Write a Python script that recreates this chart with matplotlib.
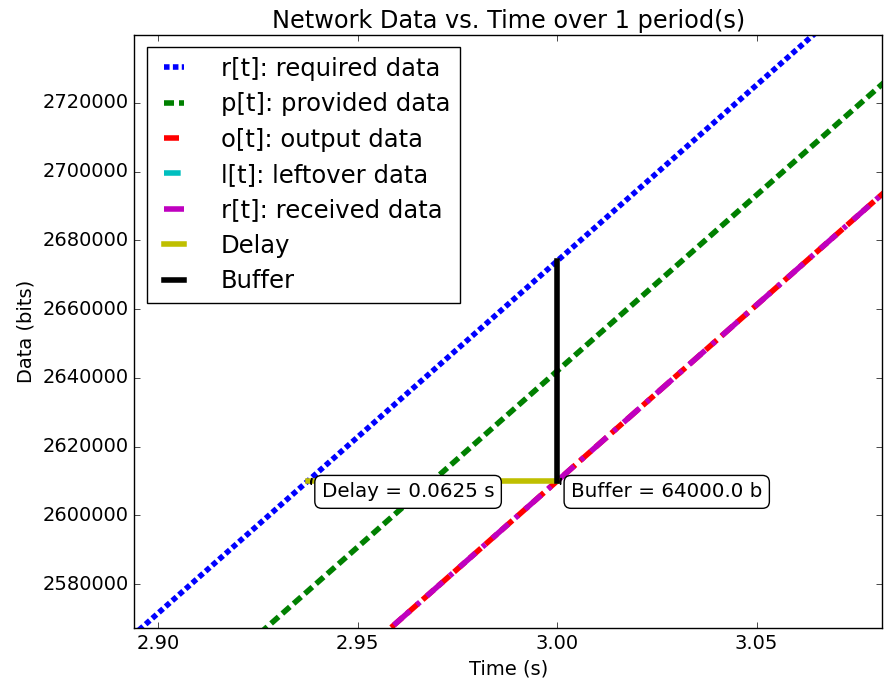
import numpy as np
import matplotlib
matplotlib.use('Agg')
import matplotlib.pyplot as plt

plt.style.use('classic')

# end points of each straight series (time in s, data in bits)
time_pts = [2.85, 3.10]
required = [2520400, 2776400]
provided = [2488400, 2744400]
output = [2456400, 2712400]
leftover = [0, 0]
received = [2456400, 2712400]

delay_t = [2.9375, 3.0]
delay_d = [2610000, 2610000]
buffer_t = [3.0, 3.0]
buffer_d = [2610000, 2674000]

delay_val = 0.0625
buffer_val = 64000.0

fig = plt.figure(figsize=(8.84, 6.82), dpi=100)
ax = fig.add_axes([0.152, 0.079, 0.846, 0.870])

ax.plot(time_pts, required, 'b', lw=4, dashes=(4, 2.4), label='r[t]: required data')
ax.plot(time_pts, provided, 'g', lw=4, dashes=(7.2, 3.6), label='p[t]: provided data')
ax.plot(time_pts, output, 'r', lw=4, dashes=(10.8, 4.3), label='o[t]: output data')
ax.plot(time_pts, leftover, 'c', lw=4, dashes=(12, 7), label='l[t]: leftover data')
ax.plot(time_pts, received, 'm', lw=4, dashes=(15.5, 6.5, 3, 6.5), label='r[t]: received data')
ax.plot(delay_t, delay_d, 'y-', lw=4, label='Delay')
ax.plot(buffer_t, buffer_d, 'k-', lw=4, label='Buffer')

box = dict(boxstyle='round,pad=0.35', fc='white', ec='black')
arrow = dict(arrowstyle='wedge,tail_width=0.3', fc='white', ec='black')
ax.annotate('Delay = {} s'.format(delay_val), xy=(delay_t[0], delay_d[0]),
            xytext=(10, -1), textcoords='offset points', ha='left', va='top',
            fontsize=14.3, bbox=box, arrowprops=arrow)
ax.annotate('Buffer = {} b'.format(buffer_val), xy=(buffer_t[0], buffer_d[0]),
            xytext=(10, -1), textcoords='offset points', ha='left', va='top',
            fontsize=14.3, bbox=box, arrowprops=arrow)

ax.set_xlim(2.894, 3.0815)
ax.set_ylim(2567200, 2739800)
ax.set_xticks([2.90, 2.95, 3.00, 3.05])
ax.set_yticks(np.arange(2580000, 2730000, 20000))
ax.ticklabel_format(useOffset=False, style='plain')
ax.set_xticklabels(['2.90', '2.95', '3.00', '3.05'])
ax.tick_params(labelsize=14)

ax.set_title('Network Data vs. Time over 1 period(s)', fontsize=17.3)
ax.set_xlabel('Time (s)', fontsize=14)
ax.set_ylabel('Data (bits)', fontsize=14)
ax.legend(loc='upper left', fontsize=17.5, handlelength=1.45,
          handletextpad=1.2, labelspacing=0.47)

fig.savefig('out.png', dpi=100)
